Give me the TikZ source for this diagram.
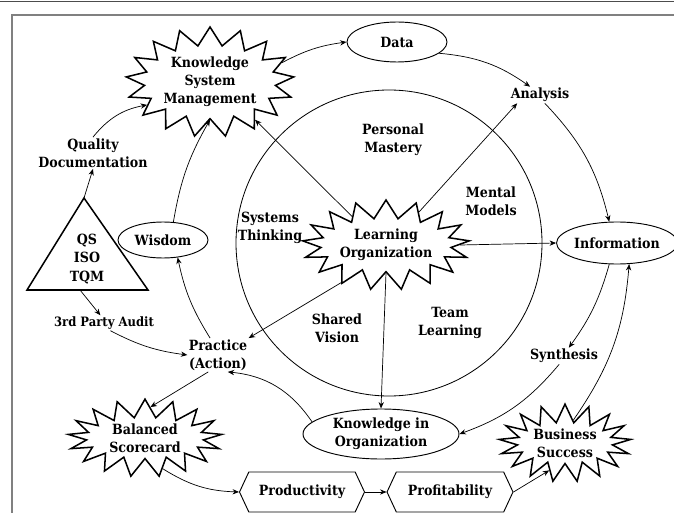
\documentclass[tikz,border=0pt]{standalone}
\usepackage{fontspec}
\setmainfont{DejaVu Serif Condensed}
\usetikzlibrary{shapes.symbols,shapes.geometric,arrows.meta}

\begin{document}
\begin{tikzpicture}[x=0.03cm,y=-0.03cm,
  font=\fontsize{12}{15.5}\selectfont\bfseries,
  >={Stealth[length=5.5pt,width=4.5pt]},
  burst/.style={starburst,random starburst=0,draw,line width=1.3pt,starburst point height=0.55cm,inner sep=0pt,align=center},
  oval/.style={ellipse,draw,line width=0.8pt,inner sep=0pt,align=center},
  hexa/.style={signal,signal from=nowhere,signal to=east and west,signal pointer angle=130,draw,line width=0.8pt,inner sep=0pt,align=center},
  label/.style={align=center,inner sep=1pt},
  link/.style={->,line width=0.6pt}]
\useasboundingbox (0,0) rectangle (674,513);
% frame
\draw[gray!60!black,line width=1.2pt] (0,1.5) -- (674,1.5);
\draw[gray,line width=1.5pt] (12,513) |- (674,15);

% the five disciplines
\coordinate (cc) at (389,243);
\draw[line width=0.7pt] (cc) circle [radius=153];
\node[label] (sys) at (270,228) {Systems\\Thinking};
\node[label] (pm) at (393,140) {Personal\\Mastery};
\node[label] (mm) at (491,201) {Mental\\Models};
\node[label] (sv) at (337,328) {Shared\\Vision};
\node[label] (tl) at (450,323) {Team\\Learning};

% nodes
\node[burst,minimum width=4.5cm,minimum height=2.7cm] (lo) at (386,245) {Learning\\Organization};
\node[burst,minimum width=4.2cm,minimum height=3.3cm] (ksm) at (210,82) {Knowledge\\System\\Management};
\node[oval,minimum width=3cm,minimum height=1.2cm] (data) at (397,42) {Data};
\node[label] (ana) at (540,95) {Analysis};
\node[oval,minimum width=3.06cm,minimum height=1.26cm] (info) at (617,243) {Information};
\node[label] (syn) at (564,356) {Synthesis};
\node[oval,minimum width=4.68cm,minimum height=1.5cm] (kio) at (381,434) {Knowledge in\\Organization};
\node[burst,minimum width=3.96cm,minimum height=1.8cm] (bus) at (565,443) {Business\\Success};
\node[hexa,minimum width=3.78cm,minimum height=1.2cm] (prof) at (450,492) {Profitability};
\node[hexa,minimum width=3.75cm,minimum height=1.2cm] (prod) at (302,492) {Productivity};
\node[burst,minimum width=4.62cm,minimum height=1.7cm] (bsc) at (145,438) {Balanced\\Scorecard};
\node[label] (prac) at (218,355) {Practice\\(Action)};
\node[label,font=\fontsize{11}{13}\selectfont\bfseries] (audit) at (104,323) {3rd Party Audit};
\node[oval,minimum width=2.7cm,minimum height=1.08cm] (wis) at (163,240) {Wisdom};
\node[label] (qdoc) at (93,153) {Quality\\Documentation};

% QS / ISO / TQM triangle
\coordinate (tA) at (84,198);
\coordinate (tL) at (27,290);
\coordinate (tR) at (148,290);
\coordinate (tB) at (80,290);
\draw[line width=1.3pt,line join=miter] (tA) -- (tL) -- (tR) -- cycle;
\node[label] (qs) at (87,259) {QS\\ISO\\TQM};

% outer cycle
\draw[link] (tA) -- (qdoc.south);
\draw[link] (qdoc.north) to[bend left=20] (ksm.200);
\draw[link] (tB) -- (audit.115);
\draw[link] (audit.-50) to[bend right=10] (prac.west);
\draw[link] (prac.115) to[bend left=10] (wis.-50);
\draw[link] (wis.60) to[bend left=10] (ksm.south);
\draw[link] (ksm.15) to[bend left=10] (data.west);
\draw[link] (data.-15) to[bend left=15] (ana.140);
\draw[link] (ana.-60) to[bend left=15] (info.110);
\draw[link] (info.-110) to[bend left=10] (syn.60);
\draw[link] (syn.-120) to[bend left=15] (kio.east);
\draw[link] (kio.170) to[bend right=25] (prac.-60);
\draw[link] (prac.-120) -- (bsc.80);
\draw[link] (bsc.-60) to[bend right=15] (prod.west);
\draw[link] (prod.east) -- (prof.west);
\draw[link] (prof.east) -- (bus.-120);
\draw[link] (bus.70) to[bend right=15] (info.-60);

% from the learning organization
\draw[link] (lo.140) -- (ksm.-40);
\draw[link] (lo.45) -- (ana.-160);
\draw[link] (lo.east) -- (info.west);
\draw[link] (lo.-140) -- (prac.north east);
\draw[link] (lo.south) -- (kio.north);
\end{tikzpicture}
\end{document}
